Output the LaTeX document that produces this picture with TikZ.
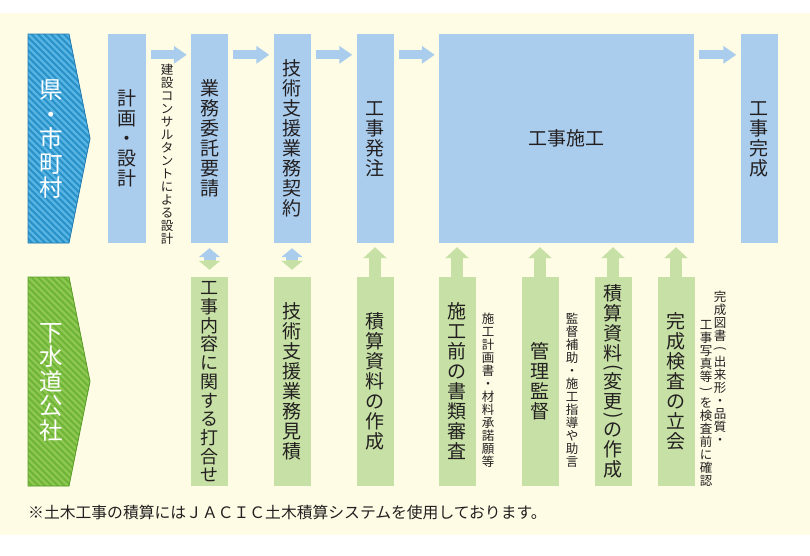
\documentclass[tikz,border=0pt]{standalone}
\usepackage{fontspec}
\usepackage{graphicx}
\newfontfamily\jp{Noto Sans CJK JP}
\usetikzlibrary{arrows.meta,calc}

\definecolor{bgyellow}{RGB}{254,252,229}
\definecolor{boxblue}{RGB}{170,205,238}
\definecolor{boxgreen}{RGB}{198,224,165}
\definecolor{kenblue}{RGB}{40,145,200}
\definecolor{kenstripe}{RGB}{88,180,226}
\definecolor{kenedge}{RGB}{34,122,176}
\definecolor{koshagreen}{RGB}{110,180,55}
\definecolor{koshastripe}{RGB}{142,200,82}
\definecolor{koshaedge}{RGB}{90,156,42}
\definecolor{inktext}{RGB}{35,31,32}

% vertical (tategaki) stack of characters; optional arg squeezes brackets
\ExplSyntaxOn
\NewDocumentCommand\tate{O{0pt}m}{
  \vbox{
    \lineskiplimit=-\maxdimen \lineskip=0pt
    \tl_map_inline:nn {#2} {
      \tl_if_in:nnTF {︵︶} {##1}
        {
          \tl_if_eq:nnTF {##1} {︵}
            { \hbox_set:Nn \l_tmpa_box { \rotatebox{-90}{(} } }
            { \hbox_set:Nn \l_tmpa_box { \rotatebox{-90}{)} } }
          \kern-#1
          \hbox_to_wd:nn {1em} {\hss
            \box_move_up:nn { .38em - (\box_ht:N \l_tmpa_box - \box_dp:N \l_tmpa_box)/2 }
              { \box_use:N \l_tmpa_box }
            \hss \vrule~height~.88em~depth~.12em~width~0pt}
          \kern-#1
        }
        { \hbox_to_wd:nn {1em} {\hss ##1 \hss \vrule~height~.88em~depth~.12em~width~0pt} }
    }
  }
}
\ExplSyntaxOff

\begin{document}
\begin{tikzpicture}[x=1pt,y=-1pt,
  stepbox/.style={rectangle, inner sep=0pt, minimum width=37pt, minimum height=209pt,
    text=inktext, font=\jp\fontsize{19}{20}\selectfont},
  topbox/.style={stepbox, fill=boxblue},
  subbox/.style={stepbox, fill=boxgreen},
  note text/.style={inner sep=0pt, text=inktext, font=\jp\fontsize{12.5}{13}\selectfont},
  side text/.style={inner sep=0pt, text=white, font=\jp\fontsize{23.5}{24.5}\selectfont},
  flow arrow/.style={draw=boxblue, line width=9pt, -{Triangle[width=17pt,length=13pt]}},
  up arrow/.style={draw=boxgreen, line width=12pt, -{Triangle[width=23pt,length=11pt]}},
]
\useasboundingbox (0,0) rectangle (810,555);
\fill[white] (0,0) rectangle (810,555);
\fill[bgyellow] (0,13) rectangle (810,535);

% ---------------------------------------------------------
% Hatched side labels
% ---------------------------------------------------------
\foreach \ty/\base/\stripe/\edge in {34/kenblue/kenstripe/kenedge, 277/koshagreen/koshastripe/koshaedge} {
  \begin{scope}
    \clip (28,\ty) -- (69,\ty) -- (90,\ty+104.5) -- (69,\ty+209) -- (28,\ty+209) -- cycle;
    \fill[\base] (20,\ty-5) rectangle (95,\ty+215);
    \foreach \t in {-40,...,16}
      \draw[\stripe, line width=2.2pt] (\t*6.5,\ty-15) -- (\t*6.5+250,\ty+235);
  \end{scope}
  \draw[\edge, line width=0.8pt] (28,\ty) -- (69,\ty) -- (90,\ty+104.5) -- (69,\ty+209) -- (28,\ty+209) -- cycle;
}
\node[side text] (ken) at (51.5,139) {\tate{県・市町村}};
\node[side text] (kosha) at (51.5,381.5) {\tate{下水道公社}};

% ---------------------------------------------------------
% Upper row (blue)
% ---------------------------------------------------------
\node[topbox, minimum width=38pt] (plan) at (127,138.5) {\tate{計画・設計}};
\node[topbox] (request) at (209.5,138.5) {\tate{業務委託要請}};
\node[topbox] (contract) at (292,138.5) {\tate{技術支援業務契約}};
\node[topbox] (order) at (375,138.5) {\tate{工事発注}};
\node[topbox, minimum width=255pt] (works) at (566.5,138.5) {工事施工};
\node[topbox] (finish) at (759,138.5) {\tate{工事完成}};

% ---------------------------------------------------------
% Lower row (green)
% ---------------------------------------------------------
\node[subbox, font=\jp\fontsize{18}{18.7}\selectfont] (meeting) at (209.5,381.5) {\tate{工事内容に関する打合せ}};
\node[subbox] (estimate) at (292,381.5) {\tate{技術支援業務見積}};
\node[subbox] (costdata) at (375,381.5) {\tate{積算資料の作成}};
\node[subbox] (review) at (457,381.5) {\tate{施工前の書類審査}};
\node[subbox] (supervise) at (540,381.5) {\tate{管理監督}};
\node[subbox] (revision) at (613,381.5) {\tate[6pt]{積算資料︵変更︶の作成}};
\node[subbox] (inspect) at (676,381.5) {\tate{完成検査の立会}};

% small notes
\node[note text] (consultant) at (167,154.5) {\tate{建設コンサルタントによる設計}};
\node[note text] (reviewnote) at (488,390.5) {\tate{施工計画書・材料承諾願等}};
\node[note text] (supervisenote) at (572,390.5) {\tate{監督補助・施工指導や助言}};
\node[note text] (inspectnote a) at (720,368) {\tate{完成図書︵出来形・品質・}};
\node[note text] (inspectnote b) at (706,402.5) {\tate{工事写真等︶を検査前に確認}};

% ---------------------------------------------------------
% Arrows
% ---------------------------------------------------------
\foreach \a/\b in {plan/request, request/contract, contract/order, order/works, works/finish}
  \draw[flow arrow] ([shift={(5,21)}]\a.north east) -- ([shift={(-4,21)}]\b.north west);

\foreach \a/\b in {request/meeting, contract/estimate} {
  \coordinate (mid) at ($(\a.south)!0.5!(\b.north)$);
  \draw[flow arrow, line width=12pt, -{Triangle[width=21pt,length=9pt]}] (mid) -- ([yshift=-5pt]\a.south);
  \draw[up arrow, -{Triangle[width=21pt,length=9pt]}] (mid) -- ([yshift=7pt]\b.north);
}

\draw[up arrow] (costdata.north) -- ([yshift=-4pt]order.south);
\foreach \g in {review, supervise, revision, inspect}
  \draw[up arrow] (\g.north) -- ($(\g.north |- works.south)+(0,4)$);

% footer
\node[anchor=west, inner sep=0pt, text=inktext, font=\jp\fontsize{15.8}{16}\selectfont] (footnote) at (28,512)
  {※土木工事の積算にはＪＡＣＩＣ土木積算システムを使用しております。};
\end{tikzpicture}
\end{document}
